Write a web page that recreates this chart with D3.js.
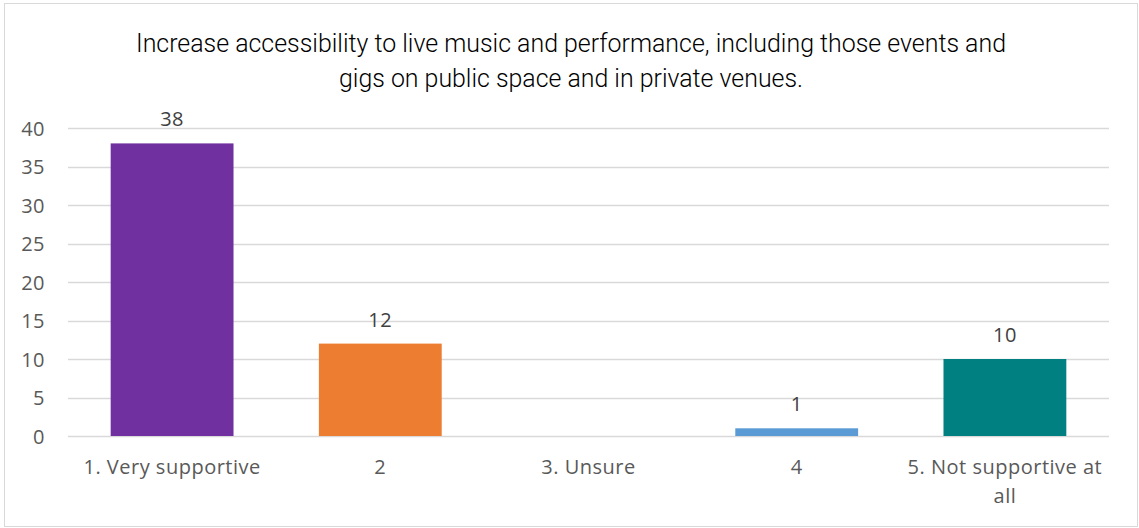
<!DOCTYPE html>
<html><head><meta charset="utf-8">
<script src="https://cdn.jsdelivr.net/npm/d3@7"></script>
<style>body{margin:0;background:#fff}svg{display:block}</style>
</head><body>
<script>
const categories = ["1. Very supportive", "2", "3. Unsure", "4", "5. Not supportive at all"];
const values = [38, 12, 0, 1, 10];
const colors = ["#7030A0", "#ED7D31", "#A5A5A5", "#5B9BD5", "#008080"];
const yTicks = [0, 5, 10, 15, 20, 25, 30, 35, 40];
const titleLines = ["Increase accessibility to live music and performance, including those events and", "gigs on public space and in private venues."];

const W = 1139, H = 528;
const m = {left: 68, right: 30, top: 128, bottom: 92};
const FONT = "'Open Sans', Lato, sans-serif";
const svg = d3.select("body").append("svg").attr("width", W).attr("height", H);
svg.append("rect").attr("x", 4.5).attr("y", 3.5).attr("width", W - 6).attr("height", H - 5)
  .attr("fill", "#fff").attr("stroke", "#d9d9d9").attr("stroke-width", 1);

const x = d3.scaleBand().domain(categories).range([m.left, W - m.right]).paddingInner(0.41).paddingOuter(0.205);
const y = d3.scaleLinear().domain([0, 40]).range([H - m.bottom, m.top]);

// gridlines
svg.append("g").selectAll("line").data(yTicks).join("line")
  .attr("x1", m.left).attr("x2", W - m.right)
  .attr("y1", d => Math.round(y(d)) + 0.5).attr("y2", d => Math.round(y(d)) + 0.5)
  .attr("stroke", "#d9d9d9").attr("stroke-width", 1.5);

// y axis labels
const yAxis = d3.axisLeft(y).tickValues(yTicks).tickSize(0).tickPadding(0);
const gy = svg.append("g").attr("transform", `translate(${m.left - 23},0)`).call(yAxis);
gy.select(".domain").remove();
gy.selectAll("text").attr("font-family", FONT).attr("font-size", 20).attr("letter-spacing", 0.5).attr("fill", "#595959").attr("dy", "0.35em");

// bars
svg.append("g").selectAll("rect").data(values).join("rect")
  .attr("x", (d, i) => x(categories[i])).attr("width", x.bandwidth())
  .attr("y", d => y(d)).attr("height", d => y(0) - y(d))
  .attr("fill", (d, i) => colors[i]);

// data labels
svg.append("g").selectAll("text").data(values.map((v, i) => ({v, c: categories[i]})).filter(d => d.v > 0)).join("text")
  .attr("x", d => x(d.c) + x.bandwidth() / 2)
  .attr("y", d => y(d.v) - 17)
  .attr("text-anchor", "middle")
  .attr("font-family", FONT).attr("font-size", 20).attr("letter-spacing", 0.5).attr("fill", "#404040")
  .text(d => d.v);

// x axis labels
const xAxis = d3.axisBottom(x).tickSize(0).tickPadding(0);
const gx = svg.append("g").attr("transform", `translate(0,${y(0) + 38})`).call(xAxis);
gx.select(".domain").remove();
gx.selectAll("text").attr("font-family", FONT).attr("font-size", 20).attr("letter-spacing", 0.5).attr("fill", "#595959")
  .attr("dy", 0)
  .each(function(d) {
    const t = d3.select(this);
    if (d === "5. Not supportive at all") {
      t.text(null);
      t.append("tspan").attr("x", 0).attr("dy", 0).text("5. Not supportive at");
      t.append("tspan").attr("x", 0).attr("dy", 29).text("all");
    }
  });

// title
const title = svg.append("g");
title.append("text").attr("x", 571).attr("y", 52).attr("text-anchor", "middle")
  .attr("font-family", "Roboto, sans-serif").attr("font-weight", 300).attr("font-size", 26).attr("fill", "#000")
  .attr("textLength", 870).attr("lengthAdjust", "spacingAndGlyphs").text(titleLines[0]);
title.append("text").attr("x", 571).attr("y", 87).attr("text-anchor", "middle")
  .attr("font-family", "Roboto, sans-serif").attr("font-weight", 300).attr("font-size", 26).attr("fill", "#000")
  .attr("textLength", 464).attr("lengthAdjust", "spacingAndGlyphs").text(titleLines[1]);
</script>
</body></html>
